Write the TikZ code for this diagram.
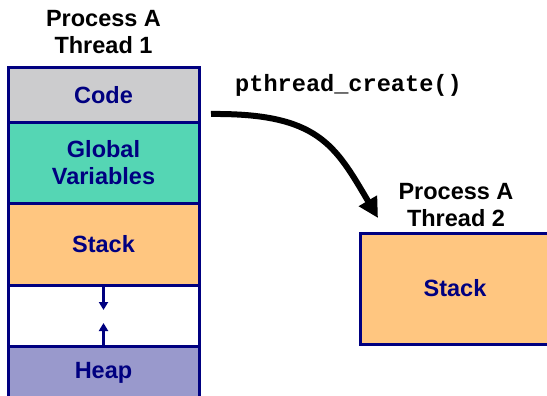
\documentclass[tikz,border=0pt]{standalone}
\usepackage{fontspec}
\setmainfont{Liberation Sans}
\setmonofont{Liberation Mono}
\usetikzlibrary{arrows.meta}

\definecolor{codegray}{RGB}{204,204,206}
\definecolor{globalteal}{RGB}{85,214,180}
\definecolor{stackorange}{RGB}{255,198,128}
\definecolor{heappurple}{RGB}{153,153,204}
\definecolor{segnavy}{RGB}{0,0,128}

\begin{document}
\begin{tikzpicture}[x=1pt,y=-1pt,
    segment/.style={rectangle,draw=segnavy,line width=3pt,inner sep=0pt,
      text=segnavy,align=center,font=\fontsize{23.5}{27}\selectfont\bfseries},
    title/.style={align=center,inner sep=0pt,
      font=\fontsize{23.5}{27}\selectfont\bfseries},
    growarrow/.style={draw=segnavy,line width=2.5pt,-{Triangle[length=8pt,width=9pt]}}]
      \useasboundingbox (0,0) rectangle (547,396);
      % address space of thread 1
      \node[title] (title1) at (103.5,32) {Process A\\Thread 1};
      \node[segment,fill=codegray,minimum width=191pt,minimum height=55.2pt]
      (code) at (103.5,95.1) {Code};
      \node[segment,fill=globalteal,minimum width=191pt,minimum height=80.6pt]
      (globals) at (103.5,163) {Global\\Variables};
      \node[segment,fill=stackorange,minimum width=191pt,minimum height=82.7pt]
      (stack) at (103.5,244.6) {Stack};
      \node[segment,fill=white,minimum width=191pt,minimum height=60.7pt]
      (gap) at (103.5,316.3) {};
      \node[segment,fill=heappurple,minimum width=191pt,minimum height=53.3pt]
      (heap) at (103.5,373.3) {Heap};
      \coordinate (growdown) at (103.5,310);
      \coordinate (growup) at (103.5,323);
      \draw[growarrow] (stack.south) to (growdown);
      \draw[growarrow] (heap.north) to (growup);
      % new thread gets its own stack
      \node[title] (title2) at (456,205) {Process A\\Thread 2};
      \node[segment,fill=stackorange,minimum width=190pt,minimum height=111pt]
      (newstack) at (455,288.5) {Stack};
      \node[font=\ttfamily\fontsize{23.6}{27}\selectfont\bfseries] (call)
      at (348.5,85) {pthread\_create()};
      \coordinate (spawn) at (211,114);
      \coordinate (spawntip) at (378,218);
      \draw[line width=6pt,-{Triangle[length=20pt,width=20pt]}] (spawn)
      .. controls (318,113) and (335,145) .. (spawntip);
    \end{tikzpicture}
\end{document}
